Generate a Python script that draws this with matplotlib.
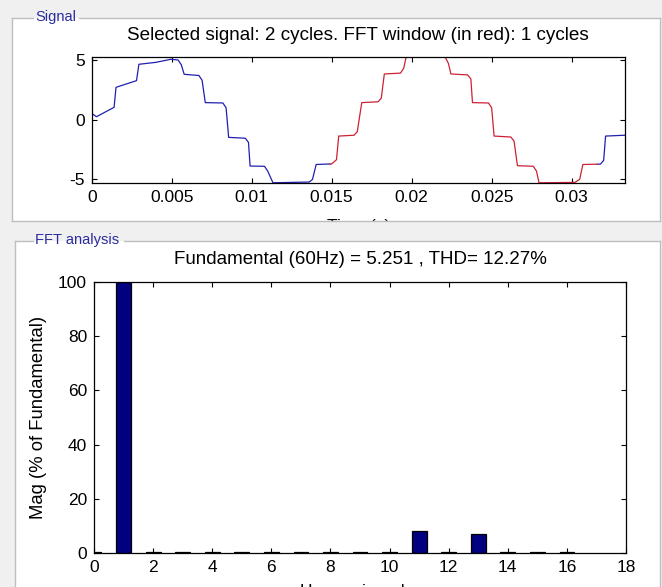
import numpy as np
import matplotlib
matplotlib.use("Agg")
import matplotlib.pyplot as plt
from matplotlib.patches import Rectangle
from matplotlib.lines import Line2D
from matplotlib.ticker import FormatStrFormatter

# stepped inverter output, breakpoints (s, V)
sig_t = [0.0, 0.0003, 0.0014, 0.00152, 0.0028, 0.00295, 0.0040, 0.00495, 0.0054, 0.0056,
         0.00578, 0.0067, 0.0069, 0.0071, 0.0082, 0.0084, 0.00856, 0.0096, 0.0098, 0.0099,
         0.0108, 0.0110, 0.01133, 0.0136, 0.0138, 0.01403, 0.0150, 0.0153, 0.01544, 0.0164,
         0.0166, 0.01688, 0.0179, 0.0181, 0.01829, 0.0193, 0.0195, 0.01965, 0.0221, 0.0223,
         0.02245, 0.0235, 0.0237, 0.0238, 0.0248, 0.0250, 0.02515, 0.0262, 0.0264, 0.02661,
         0.0276, 0.0278, 0.02796, 0.0302, 0.0305, 0.0307, 0.0318, 0.0320, 0.03212, 0.03334]
sig_v = [0.53, 0.25, 1.04, 2.71, 3.27, 4.64, 4.80, 5.06, 5.0, 4.6,
         3.8, 3.7, 3.3, 1.43, 1.40, 1.0, -1.48, -1.55, -1.9, -3.88,
         -3.9, -4.3, -5.28, -5.22, -5.0, -3.75, -3.7, -3.35, -1.37, -1.3,
         -1.0, 1.43, 1.5, 1.8, 3.83, 3.9, 4.3, 5.23, 5.23, 4.7,
         3.83, 3.75, 3.4, 1.43, 1.4, 1.0, -1.37, -1.45, -1.8, -3.85,
         -3.9, -4.3, -5.28, -5.25, -5.0, -3.75, -3.72, -3.4, -1.37, -1.3]
win_start, win_end = 0.0149, 0.0316   # FFT window (red)

harm = list(range(17))
mag = [0.4, 100, 0.4, 0.3, 0.4, 0.3, 0.4, 0.3, 0.4, 0.3, 0.4, 8.3, 0.4, 7.2, 0.4, 0.3, 0.4]

top_title = "Selected signal: 2 cycles. FFT window (in red): 1 cycles"
fft_title = "Fundamental (60Hz) = 5.251 , THD= 12.27%"

plt.rcParams["font.family"] = ["Liberation Sans", "DejaVu Sans"]
plt.rcParams["axes.unicode_minus"] = False

W, H = 662, 587
GRAY = "#F0F0F0"; EDGE = "#BEBEBE"; LBL = "#2B2BA0"
def fx(x): return x / W
def fy(y): return 1 - y / H

fig = plt.figure(figsize=(W / 100, H / 100), dpi=100, facecolor=GRAY)

def panel(x0, y0, x1, y1, gap):
    fig.add_artist(Rectangle((fx(x0), fy(y1)), fx(x1) - fx(x0), fy(y0) - fy(y1),
                             transform=fig.transFigure, facecolor="white",
                             edgecolor="none", zorder=-2))
    kw = dict(transform=fig.transFigure, color=EDGE, lw=1, zorder=6)
    fig.add_artist(Line2D([fx(x0), fx(gap[0])], [fy(y0)] * 2, **kw))
    fig.add_artist(Line2D([fx(gap[1]), fx(x1)], [fy(y0)] * 2, **kw))
    fig.add_artist(Line2D([fx(x0)] * 2, [fy(y0), fy(y1)], **kw))
    fig.add_artist(Line2D([fx(x1)] * 2, [fy(y0), fy(y1)], **kw))
    fig.add_artist(Line2D([fx(x0), fx(x1)], [fy(y1)] * 2, **kw))

panel(12, 18, 660, 221, (33, 79))
panel(15, 241, 660, 600, (33, 124))
fig.text(fx(35), fy(17), "Signal", color=LBL, fontsize=10.5, va="center", ha="left", zorder=7)
fig.text(fx(35), fy(240), "FFT analysis", color=LBL, fontsize=10.5, va="center", ha="left", zorder=7)

def style(ax):
    ax.tick_params(direction="in", top=True, right=True, length=3.5, width=0.8,
                   labelsize=12.5, pad=5, colors="black")
    for s in ax.spines.values():
        s.set_linewidth(0.9)

# ---- signal
ax1 = fig.add_axes([fx(91.7), fy(183), fx(625) - fx(91.7), fy(57) - fy(183)])
t = np.array(sig_t); v = np.array(sig_v)
cuts = np.interp([win_start, win_end], t, v)
def seg(a, b, va, vb):
    m = (t > a) & (t < b)
    return np.r_[a, t[m], b], np.r_[va, v[m], vb]
bx, by = seg(t[0], win_start, v[0], cuts[0])
rx, ry = seg(win_start, win_end, cuts[0], cuts[1])
cx, cy = seg(win_end, t[-1], cuts[1], v[-1])
ax1.plot(bx, by, color="#2020B0", lw=0.9)
ax1.plot(cx, cy, color="#2020B0", lw=0.9)
ax1.plot(rx, ry, color="#CC2233", lw=0.9)
ax1.set_xlim(0, 2 / 60)
ax1.set_ylim(-5.3, 5.25)
ax1.set_xticks(np.arange(0, 0.031, 0.005))
ax1.xaxis.set_major_formatter(FormatStrFormatter("%g"))
ax1.set_yticks([-5, 0, 5])
style(ax1)
ax1.set_xlabel("Time (s)", fontsize=12.5)
ax1.xaxis.set_label_coords(0.5, -(226 - 183) / 126)
ax1.xaxis.label.set_va("center")
fig.text(fx(358), fy(35), top_title, fontsize=13.6, ha="center", va="center")

# gray strip between the two panels hides the lower part of "Time (s)"
fig.add_artist(Rectangle((0, fy(240.5)), 1, fy(221.5) - fy(240.5), transform=fig.transFigure,
                         facecolor=GRAY, edgecolor="none", zorder=5))

# ---- FFT
ax2 = fig.add_axes([fx(94), fy(553.3), fx(626) - fx(94), fy(281.7) - fy(553.3)])
ax2.bar(harm, mag, width=0.5, color="#000080", edgecolor="black", linewidth=0.9)
ax2.set_xlim(0, 18)
ax2.set_ylim(0, 100)
ax2.set_xticks(range(0, 19, 2))
ax2.set_yticks(range(0, 101, 20))
style(ax2)
ax2.set_ylabel("Mag (% of Fundamental)", fontsize=13.3)
ax2.yaxis.set_label_coords(-(94 - 38) / 532, 0.5)
ax2.yaxis.label.set_va("center")
ax2.set_xlabel("Harmonic order", fontsize=12.5)
ax2.xaxis.set_label_coords(0.5, -(592 - 553.3) / 271.6)
ax2.xaxis.label.set_va("center")
fig.text(fx(360), fy(260), fft_title, fontsize=13.5, ha="center", va="center")

fig.savefig("out.png", dpi=100, facecolor=GRAY)
